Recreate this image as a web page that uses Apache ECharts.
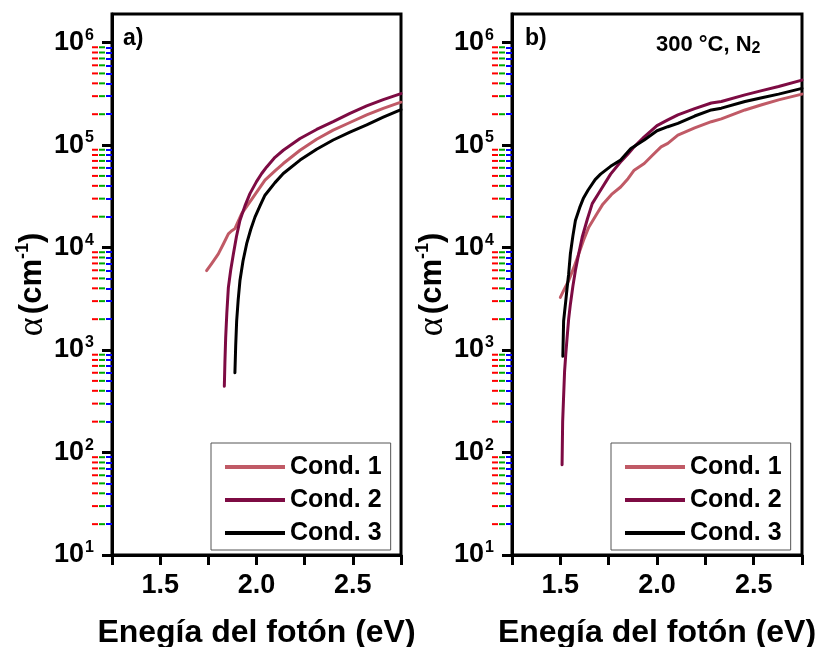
<!DOCTYPE html>
<html>
<head>
<meta charset="utf-8">
<script src="https://cdn.jsdelivr.net/npm/echarts@6/dist/echarts.min.js"></script>
<style>
html, body { margin: 0; padding: 0; background: #fff; }
#chart { width: 824px; height: 647px; }
</style>
</head>
<body>
<div id="chart"></div>
<script>
// ---- Panel a) photon energy (eV) and absorption coefficient (cm^-1) ----
const energyA1 = [1.741, 1.770, 1.802, 1.830, 1.854, 1.870, 1.888, 1.923, 1.983, 2.044, 2.096, 2.139, 2.226, 2.312, 2.398, 2.485, 2.572, 2.658, 2.750];
const alphaA1  = [5960, 7100, 8670, 11000, 13600, 14500, 15300, 21400, 31100, 45400, 56000, 66000, 89000, 114000, 140000, 166000, 197000, 228000, 262000];

const energyA2 = [1.833, 1.836, 1.840, 1.846, 1.854, 1.866, 1.880, 1.896, 1.914, 1.940, 1.966, 2.000, 2.027, 2.053, 2.096, 2.139, 2.226, 2.312, 2.398, 2.485, 2.572, 2.658, 2.750];
const alphaA2  = [444, 750, 1320, 2300, 4080, 6000, 8670, 12800, 18400, 25500, 33600, 44000, 52800, 61200, 76000, 89000, 116000, 142000, 169000, 204000, 241000, 278000, 318000];

const energyA3 = [1.888, 1.892, 1.897, 1.905, 1.914, 1.930, 1.949, 1.970, 1.992, 2.018, 2.044, 2.096, 2.139, 2.226, 2.312, 2.398, 2.485, 2.572, 2.658, 2.750];
const alphaA3  = [600, 1100, 1920, 3100, 4740, 7400, 10900, 15000, 19800, 25500, 32400, 43000, 52800, 71300, 91000, 112000, 134000, 157000, 187000, 222000];

// ---- Panel b) 300 °C, N2 ----
const energyB1 = [1.500, 1.520, 1.543, 1.570, 1.595, 1.620, 1.647, 1.690, 1.720, 1.765, 1.812, 1.850, 1.882, 1.934, 1.978, 2.021, 2.056, 2.108, 2.195, 2.281, 2.333, 2.455, 2.542, 2.629, 2.750];
const alphaB1  = [3260, 3900, 4740, 6400, 8670, 11800, 15800, 21500, 26500, 33000, 39000, 47000, 56900, 66000, 80000, 96000, 104000, 125000, 147000, 169000, 180000, 220000, 247000, 276000, 314000];

const energyB2 = [1.509, 1.512, 1.517, 1.522, 1.528, 1.535, 1.543, 1.552, 1.565, 1.578, 1.595, 1.613, 1.640, 1.665, 1.708, 1.760, 1.810, 1.850, 1.882, 1.934, 2.000, 2.056, 2.108, 2.195, 2.281, 2.333, 2.455, 2.542, 2.629, 2.750];
const alphaB2  = [76, 200, 355, 620, 900, 1320, 2000, 2800, 4200, 5960, 8700, 12600, 19000, 26800, 36200, 52000, 68000, 82000, 96000, 120000, 155000, 176000, 197000, 227000, 257000, 266000, 309000, 340000, 373000, 430000];

const energyB3 = [1.513, 1.517, 1.522, 1.528, 1.535, 1.543, 1.552, 1.565, 1.578, 1.600, 1.620, 1.643, 1.680, 1.708, 1.760, 1.812, 1.865, 1.934, 2.000, 2.056, 2.108, 2.195, 2.281, 2.333, 2.455, 2.542, 2.629, 2.750];
const alphaB3  = [870, 1920, 2350, 3000, 4050, 5500, 8700, 13000, 18400, 24500, 30500, 36200, 46000, 52000, 62000, 71300, 92700, 112000, 138000, 151000, 163000, 192000, 220000, 229000, 266000, 290000, 314000, 357000];

// ---- Legend names, colours, axis ticks ----
const seriesNames = ['Cond. 1', 'Cond. 2', 'Cond. 3'];
const seriesColors = ['#c05a66', '#7d0b43', '#000000'];
const majorTicksY = [1e1, 1e2, 1e3, 1e4, 1e5, 1e6];
const minorTicksY = [
  20, 30, 40, 50, 60, 70, 80, 90,
  200, 300, 400, 500, 600, 700, 800, 900,
  2000, 3000, 4000, 5000, 6000, 7000, 8000, 9000,
  2e4, 3e4, 4e4, 5e4, 6e4, 7e4, 8e4, 9e4,
  2e5, 3e5, 4e5, 5e5, 6e5, 7e5, 8e5, 9e5
];
const xLabelTicks = [1.5, 2.0, 2.5];
const X_MIN = 1.25, X_MAX = 2.75, X_STEP = 0.25;
const Y_MIN = 10, Y_MAX = 1.9e6;

// Plot frame layout
const GRID_TOP = 14, GRID_HEIGHT = 541;
const GRID_LEFT = [112, 512], GRID_WIDTH = [289, 290];

const FONT = "'Liberation Sans', Arial, Helvetica, sans-serif";

const zip = (xs, ys) => xs.map((x, i) => [x, ys[i]]);

function xAxisFor(gridIndex) {
  return {
    type: 'value',
    gridIndex: gridIndex,
    min: X_MIN,
    max: X_MAX,
    interval: X_STEP,
    axisLine: { show: true, lineStyle: { color: '#000', width: 3 } },
    axisTick: { show: true, inside: false, length: 10, lineStyle: { color: '#000', width: 3 } },
    axisLabel: {
      color: '#000', fontFamily: FONT, fontWeight: 'bold', fontSize: 27, margin: 17,
      formatter: v => xLabelTicks.some(t => Math.abs(t - v) < 1e-6) ? v.toFixed(1) : ''
    },
    splitLine: { show: false },
    name: 'Enegía del fotón (eV)',
    nameLocation: 'middle',
    nameGap: 62,
    nameTextStyle: { color: '#000', fontFamily: FONT, fontWeight: 'bold', fontSize: 32 }
  };
}

function yAxisFor(gridIndex) {
  return {
    type: 'log',
    gridIndex: gridIndex,
    min: Y_MIN,
    max: Y_MAX,
    axisLine: { show: true, lineStyle: { color: '#000', width: 3 } },
    axisTick: { show: true, inside: false, length: 10, customValues: majorTicksY, lineStyle: { color: '#000', width: 3 } },
    axisLabel: {
      customValues: majorTicksY,
      margin: 18,
      formatter: v => '{b|10}{s|' + Math.round(Math.log10(v)) + '}',
      rich: {
        b: { fontFamily: FONT, fontWeight: 'bold', fontSize: 27, color: '#000', lineHeight: 30 },
        s: { fontFamily: FONT, fontWeight: 'bold', fontSize: 16, color: '#000', verticalAlign: 'top', lineHeight: 30, padding: [0, 0, 12, 1] }
      }
    },
    splitLine: { show: false },
    name: '{a|α} {b|(cm}{s|-1}{b|)}',
    nameLocation: 'middle',
    nameRotate: 90,
    nameGap: 60,
    nameTextStyle: {
      rich: {
        a: { fontFamily: "'Liberation Serif', 'DejaVu Serif', serif", fontSize: 36, color: '#000', lineHeight: 36 },
        b: { fontFamily: FONT, fontWeight: 'bold', fontSize: 31, color: '#000', lineHeight: 36 },
        s: { fontFamily: FONT, fontWeight: 'bold', fontSize: 18, color: '#000', verticalAlign: 'top', lineHeight: 36 }
      }
    }
  };
}

// Overlay frame that carries only the short minor ticks of the log axis
function minorXAxis(gridIndex) {
  return { type: 'value', gridIndex: gridIndex, min: X_MIN, max: X_MAX, show: false };
}
function minorYAxis(gridIndex) {
  return {
    type: 'log',
    gridIndex: gridIndex,
    min: Y_MIN,
    max: Y_MAX,
    axisLine: { show: false },
    axisTick: { show: true, inside: false, length: 6, customValues: minorTicksY, lineStyle: { color: '#0000ff', width: 2 } },
    axisLabel: { show: false },
    splitLine: { show: false }
  };
}

function minorTickCustom(xIdx, yIdx) {
  return {
    type: 'custom',
    xAxisIndex: xIdx,
    yAxisIndex: yIdx,
    silent: true,
    clip: false,
    z: 20,
    data: minorTicksY.map(v => [X_MIN, v]),
    renderItem: (params, api) => {
      const p = api.coord([api.value(0), api.value(1)]);
      return {
        type: 'line',
        shape: { x1: p[0] - 13, y1: p[1], x2: p[0] - 7, y2: p[1] },
        style: { stroke: '#00aa00', lineWidth: 2 }
      };
    }
  };
}

function lineSeries(name, color, xIdx, yIdx, xs, ys) {
  return {
    type: 'line',
    name: name,
    xAxisIndex: xIdx,
    yAxisIndex: yIdx,
    data: zip(xs, ys),
    showSymbol: false,
    symbol: 'none',
    smooth: false,
    clip: true,
    lineStyle: { color: color, width: 3, join: 'round', cap: 'round' },
    itemStyle: { color: color },
    animation: false
  };
}

function legendAt(left) {
  return {
    left: left,
    top: 443,
    orient: 'vertical',
    data: seriesNames,
    icon: 'rect',
    itemWidth: 60,
    itemHeight: 4,
    itemGap: 3,
    padding: [9, 9, 2, 14],
    borderColor: '#555',
    borderWidth: 1,
    backgroundColor: '#fff',
    selectedMode: false,
    textStyle: { color: '#000', fontFamily: FONT, fontWeight: 'bold', fontSize: 25, lineHeight: 30 }
  };
}

function gridAt(i, framed) {
  return {
    left: GRID_LEFT[i], width: GRID_WIDTH[i], top: GRID_TOP, height: GRID_HEIGHT,
    show: framed, borderColor: '#000', borderWidth: 3, backgroundColor: 'transparent',
    containLabel: false, outerBoundsMode: 'none'
  };
}

const chart = echarts.init(document.getElementById('chart'));

chart.setOption({
  animation: false,
  grid: [gridAt(0, true), gridAt(1, true), gridAt(0, false), gridAt(1, false)],
  xAxis: [xAxisFor(0), xAxisFor(1), minorXAxis(2), minorXAxis(3)],
  yAxis: [yAxisFor(0), yAxisFor(1), minorYAxis(2), minorYAxis(3)],
  legend: [legendAt(211), legendAt(611)],
  series: [
    lineSeries(seriesNames[0], seriesColors[0], 0, 0, energyA1, alphaA1),
    lineSeries(seriesNames[1], seriesColors[1], 0, 0, energyA2, alphaA2),
    lineSeries(seriesNames[2], seriesColors[2], 0, 0, energyA3, alphaA3),
    lineSeries(seriesNames[0], seriesColors[0], 1, 1, energyB1, alphaB1),
    lineSeries(seriesNames[1], seriesColors[1], 1, 1, energyB2, alphaB2),
    lineSeries(seriesNames[2], seriesColors[2], 1, 1, energyB3, alphaB3),
    minorTickCustom(0, 0),
    minorTickCustom(1, 1)
  ]
});

// Graphic-layer ticks plus panel captions
const extraGraphics = [];
[0, 1].forEach(gi => {
  minorTicksY.forEach(v => {
    let p = null;
    try { p = chart.convertToPixel({ gridIndex: gi }, [X_MIN, v]); } catch (e) { p = null; }
    if (!p || !isFinite(p[1])) return;
    extraGraphics.push({
      type: 'line', silent: true, z: 30,
      shape: { x1: p[0] - 20, y1: p[1], x2: p[0] - 14, y2: p[1] },
      style: { stroke: '#ff0000', lineWidth: 2 }
    });
  });
});
extraGraphics.push(
  { type: 'text', x: 123, y: 27, style: { text: 'a)', fill: '#000', font: "bold 23px " + FONT } },
  { type: 'text', x: 525, y: 27, style: { text: 'b)', fill: '#000', font: "bold 23px " + FONT } },
  {
    type: 'text', x: 656, y: 32,
    style: {
      text: '{n|300 °C, N}{s|2}',
      rich: {
        n: { fontFamily: FONT, fontWeight: 'bold', fontSize: 22, fill: '#000', lineHeight: 25 },
        s: { fontFamily: FONT, fontWeight: 'bold', fontSize: 16, fill: '#000', lineHeight: 25, verticalAlign: 'bottom', padding: [6, 0, 0, 0] }
      }
    }
  }
);
chart.setOption({ graphic: extraGraphics });
</script>
</body>
</html>
